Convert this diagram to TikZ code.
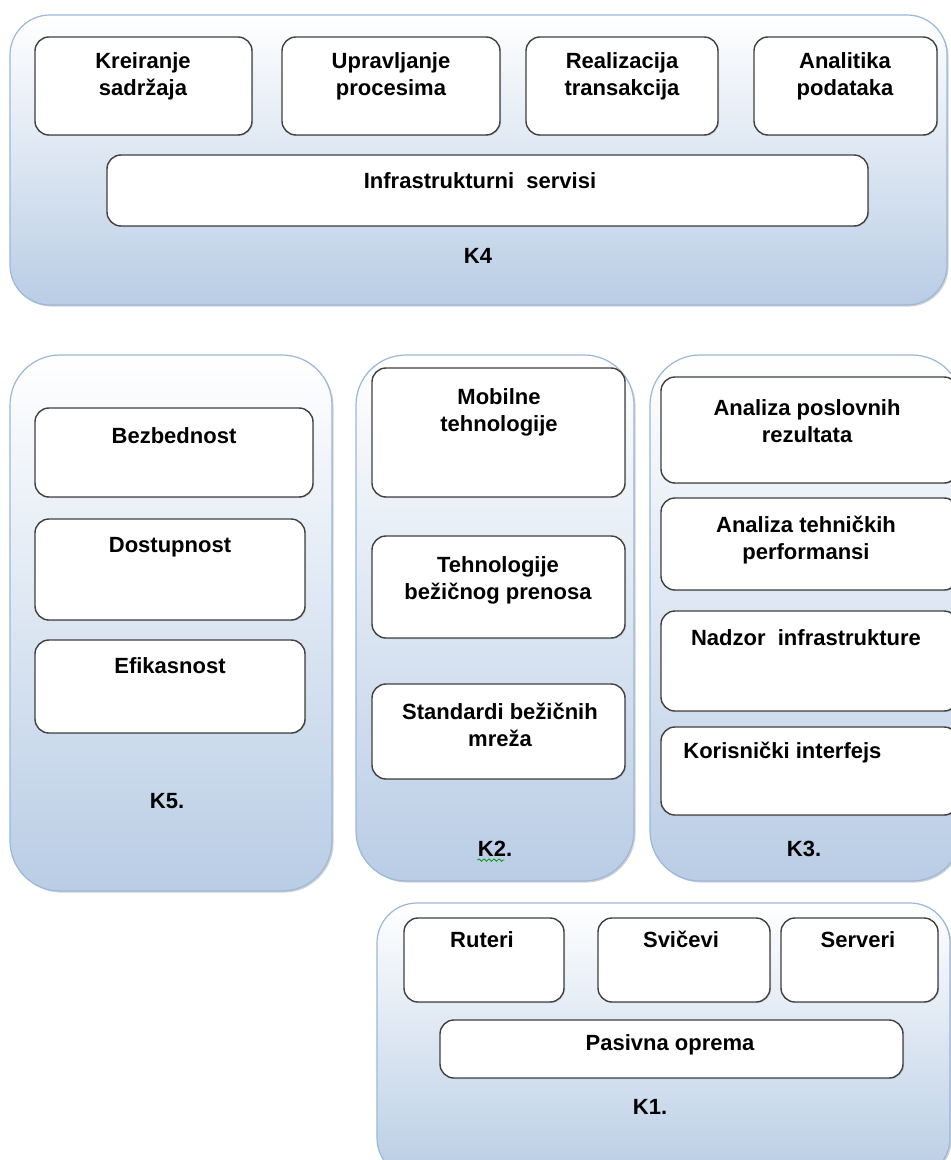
\documentclass[tikz,border=0pt]{standalone}
\usepackage{fontspec}
\setmainfont{Liberation Sans}
\usetikzlibrary{shadows,decorations.pathmorphing}

\definecolor{layerblue}{HTML}{B9CDE5}
\definecolor{layerline}{HTML}{9BB7DA}
\tikzset{
  layer/.style={draw=layerline, line width=0.6pt, top color=white, bottom color=layerblue,
    drop shadow={shadow xshift=0.8pt, shadow yshift=-0.8pt, opacity=0.35}},
  part/.style={draw=black!75, line width=0.7pt, fill=white, rounded corners=7pt,
    drop shadow={shadow xshift=0.5pt, shadow yshift=-0.5pt, opacity=0.25}},
  lbl/.style={font=\fontsize{11}{13.5}\selectfont\bfseries, align=center, inner sep=0pt}
}

\begin{document}
\begin{tikzpicture}[x=0.5pt,y=-0.5pt]
	\useasboundingbox (0,0) rectangle (950,1160);
	\fill[white] (0,0) rectangle (950,1160);

	\draw[layer, rounded corners=20pt] (10,15) rectangle (947,305); %K4
	\draw[part] (35,37) rectangle (252,135); %content
	\draw[part] (282,37) rectangle (500,135); %processes
	\draw[part] (526,37) rectangle (718,135); %transactions
	\draw[part] (754,37) rectangle (937,135); %analytics
	\draw[part] (107,155) rectangle (868,226); %infrastructure services

	\draw[layer, rounded corners=25pt] (10,355) rectangle (332,891); %K5
	\draw[part] (35,408) rectangle (313,497); %security
	\draw[part] (35,519) rectangle (305,620); %availability
	\draw[part] (35,640) rectangle (305,733); %efficiency

	\draw[layer, rounded corners=25pt] (356,355) rectangle (634,881); %K2
	\draw[part] (372,368) rectangle (625,497); %mobile
	\draw[part] (372,536) rectangle (625,638); %wireless transfer
	\draw[part] (372,684) rectangle (625,779); %wireless standards

	\draw[layer, rounded corners=25pt] (650,355) rectangle (962,881); %K3
	\draw[part] (661,377) rectangle (958,483); %business results
	\draw[part] (661,498) rectangle (958,590); %technical performance
	\draw[part] (661,611) rectangle (958,711); %monitoring
	\draw[part] (661,727) rectangle (958,815); %user interface

	\draw[layer, rounded corners=20pt] (377,903) rectangle (950,1178); %K1
	\draw[part] (404,918) rectangle (564,1002); %routers
	\draw[part] (598,918) rectangle (770,1002); %switches
	\draw[part] (781,918) rectangle (938,1002); %servers
	\draw[part] (440,1020) rectangle (903,1078); %passive equipment

	\node[lbl] at (143,76) (kreiranje) {Kreiranje\\sadržaja};
	\node[lbl] at (391,76) (upravljanje) {Upravljanje\\procesima};
	\node[lbl] at (622,76) (realizacija) {Realizacija\\transakcija};
	\node[lbl] at (845,76) (analitika) {Analitika\\podataka};
	\node[lbl] at (480,181) (infra) {Infrastrukturni\ \ servisi};
	\node[lbl] at (478,256) (k4) {K4};

	\node[lbl] at (174,436) (bezbednost) {Bezbednost};
	\node[lbl] at (170,547) (dostupnost) {Dostupnost};
	\node[lbl] at (170,666) (efikasnost) {Efikasnost};
	\node[lbl] at (167,801) (k5) {K5.};

	\node[lbl] at (499,412) (mobilne) {Mobilne\\tehnologije};
	\node[lbl] at (498,580) (bezicni) {Tehnologije\\bežičnog prenosa};
	\node[lbl] at (500,725) (standardi) {Standardi bežičnih\\mreža};
	\node[lbl] at (495,849) (k2) {K2.};
	\draw[green!60!black, line width=0.4pt, decorate, decoration={snake, amplitude=0.6pt, segment length=2.5pt}]
		(k2.south west) ++(0,3) -- ++(27,0);

	\node[lbl] at (807,421) (poslovni) {Analiza poslovnih\\rezultata};
	\node[lbl] at (806,540) (tehnicki) {Analiza tehničkih\\performansi};
	\node[lbl] at (806,638) (nadzor) {Nadzor\ \ infrastrukture};
	\node[lbl, anchor=west] at (683,753) (interfejs) {Korisnički interfejs};
	\node[lbl] at (804,849) (k3) {K3.};

	\node[lbl] at (482,940) (ruteri) {Ruteri};
	\node[lbl] at (681,939) (svicevi) {Svičevi};
	\node[lbl] at (858,940) (serveri) {Serveri};
	\node[lbl] at (670,1045) (pasivna) {Pasivna oprema};
	\node[lbl] at (650,1107) (k1) {K1.};
\end{tikzpicture}
\end{document}
